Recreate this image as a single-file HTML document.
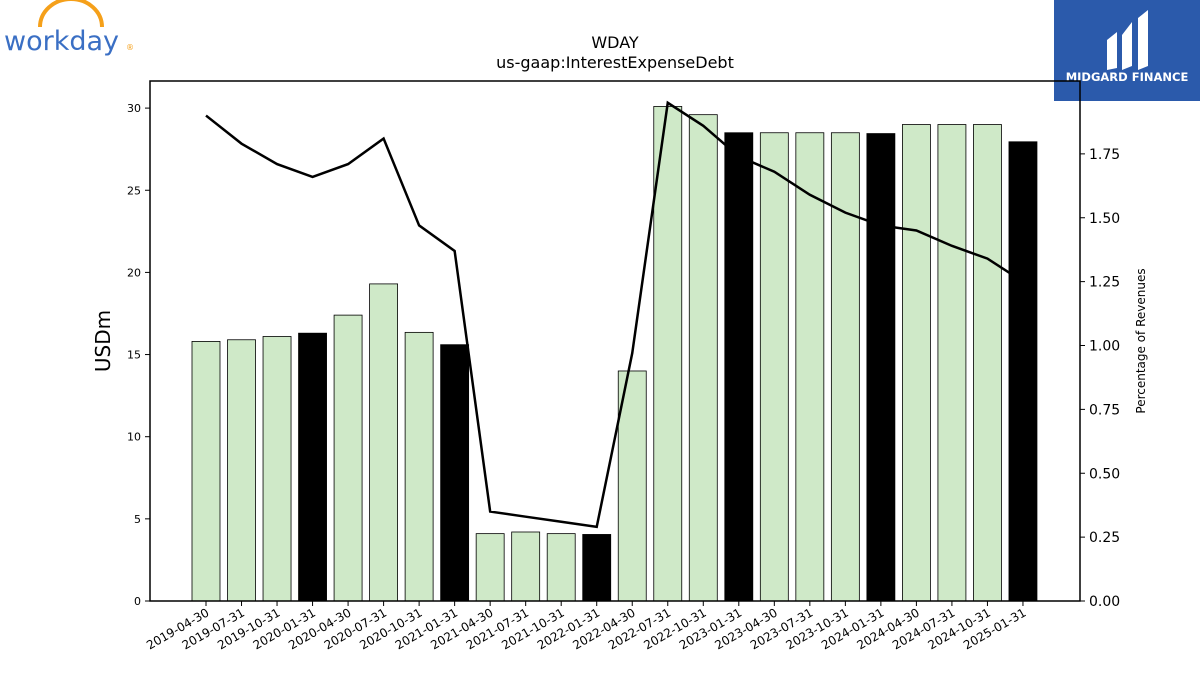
<!DOCTYPE html>
<html><head><meta charset="utf-8"><style>
body{margin:0;background:#fff;font-family:"Liberation Sans","DejaVu Sans",sans-serif;}
svg text{font-family:"DejaVu Sans","Liberation Sans",sans-serif;}
</style></head><body>
<svg id="c" width="1200" height="675" viewBox="0 0 1200 675" xmlns="http://www.w3.org/2000/svg">
<g>
<path d="M40 27 A31 28 0 0 1 102 27" fill="none" stroke="#f5a01a" stroke-width="4"/>
<text x="4" y="50" font-size="27" fill="#3a6fc4" font-family="Liberation Sans">workday</text>
<text x="126" y="50" font-size="8" fill="#f5a01a">®</text>
</g>
<g>
<rect x="1054" y="0" width="146" height="101" fill="#2b5aab"/>
<path d="M1107 40 L1117 32 L1117 68 L1107 70 Z M1122 35 L1132 22 L1132 66 L1122 70 Z M1138 18 L1148 10 L1148 66 L1138 70 Z" fill="#fff"/>
<text x="1127" y="81" font-size="11.5" font-weight="bold" fill="#fff" text-anchor="middle" font-family="Liberation Sans">MIDGARD FINANCE</text>
</g>
<text x="615" y="48" font-size="16" text-anchor="middle">WDAY</text>
<text x="615" y="68" font-size="16" text-anchor="middle">us-gaap:InterestExpenseDebt</text>
<g id="plot"></g>
</svg>
<script>
const categories=["2019-04-30","2019-07-31","2019-10-31","2020-01-31","2020-04-30","2020-07-31","2020-10-31","2021-01-31","2021-04-30","2021-07-31","2021-10-31","2022-01-31","2022-04-30","2022-07-31","2022-10-31","2023-01-31","2023-04-30","2023-07-31","2023-10-31","2024-01-31","2024-04-30","2024-07-31","2024-10-31","2025-01-31"];
const interestValues=[15.8,15.9,16.1,16.3,17.4,19.3,16.35,15.6,4.1,4.2,4.1,4.05,14.0,30.1,29.6,28.5,28.5,28.5,28.5,28.45,29.0,29.0,29.0,27.95];
const pctRevenues=[1.90,1.79,1.71,1.66,1.71,1.81,1.47,1.37,0.35,0.33,0.31,0.29,0.97,1.95,1.86,1.74,1.68,1.59,1.52,1.47,1.45,1.39,1.34,1.25];
const leftTicks=[0,5,10,15,20,25,30];
const rightTicks=[0,0.25,0.5,0.75,1.0,1.25,1.5,1.75];
const L=150,R=1080,T=81,B=601;
const yL=v=>B-v*16.43;
const yR=v=>B-v*255.5;
const xC=i=>206+i*35.52;
const NS="http://www.w3.org/2000/svg";
const g=document.getElementById('plot');
function mk(t,a,p){const e=document.createElementNS(NS,t);for(const k in a)e.setAttribute(k,a[k]);(p||g).appendChild(e);return e;}
categories.forEach((c,i)=>{
  const annual=c.endsWith("01-31");
  const r=mk('rect',{x:xC(i)-14,y:yL(interestValues[i]),width:28,height:B-yL(interestValues[i]),fill:annual?'#000':'#cfe9c8',stroke:'#000','stroke-width':0.8});
  
  
  mk('line',{x1:xC(i),x2:xC(i),y1:B,y2:B+5,stroke:'#000'});
  const t=mk('text',{x:xC(i)+4,y:B+14,'font-size':12,'text-anchor':'end',transform:`rotate(-30 ${xC(i)+4} ${B+14})`});
  t.textContent=c;
  
  
});
const pts=pctRevenues.map((v,i)=>xC(i)+','+yR(v)).join(' ');
const ln=mk('polyline',{points:pts,fill:'none',stroke:'#000','stroke-width':2.5});


const fr=mk('rect',{x:L,y:T,width:R-L,height:B-T,fill:'none',stroke:'#000','stroke-width':1.5});


leftTicks.forEach(v=>{
  mk('line',{x1:L-5,x2:L,y1:yL(v),y2:yL(v),stroke:'#000'});
  const t=mk('text',{x:L-9,y:yL(v)+4,'font-size':11,'text-anchor':'end'});t.textContent=v;
  
  
});
rightTicks.forEach(v=>{
  mk('line',{x1:R,x2:R+5,y1:yR(v),y2:yR(v),stroke:'#000'});
  const t=mk('text',{x:R+9,y:yR(v)+5,'font-size':14});t.textContent=v.toFixed(2);
  
  
});
const yl=mk('text',{x:110,y:341,'font-size':20,'text-anchor':'middle',transform:'rotate(-90 110 341)'});yl.textContent='USDm';


const yr=mk('text',{x:1145,y:341,'font-size':12,'text-anchor':'middle',transform:'rotate(-90 1145 341)'});yr.textContent='Percentage of Revenues';


</script>
</body></html>
